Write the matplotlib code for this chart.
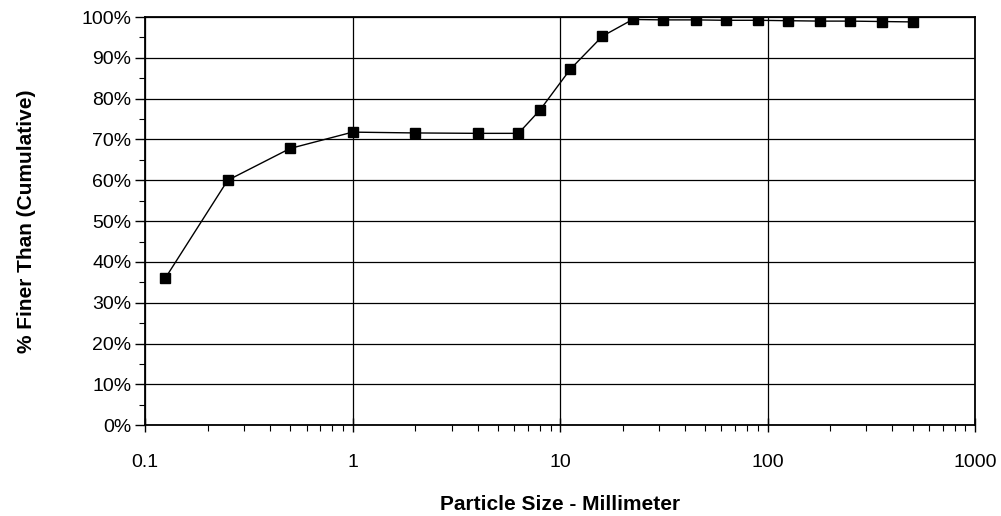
import matplotlib.pyplot as plt
from matplotlib.ticker import FixedLocator, NullFormatter, FuncFormatter

# sieve sizes (mm) and cumulative % finer
size_mm = [0.125, 0.25, 0.5, 1, 2, 4, 6.3, 8, 11.2, 16, 22.4, 31.5, 45, 63,
           90, 125, 180, 250, 355, 500]
pct_finer = [36, 60, 67.8, 71.8, 71.6, 71.5, 71.5, 77.2, 87.2, 95.3, 99.4, 99.3,
             99.3, 99.2, 99.2, 99.1, 99.0, 99.0, 98.9, 98.8]

x_ticks = [0.1, 1, 10, 100, 1000]
x_ticklabels = ["0.1", "1", "10", "100", "1000"]
y_ticks = list(range(0, 101, 10))

plt.rcParams['font.family'] = ['Liberation Sans', 'DejaVu Sans']

fig = plt.figure(figsize=(10.01, 5.16), dpi=100)
ax = fig.add_axes([0.145, 0.176, 0.829, 0.791])

ax.plot(size_mm, pct_finer, color='black', lw=1, marker='s', ms=7.5,
        mfc='black', mec='black', zorder=3)

ax.set_xscale('log')
ax.set_xlim(0.1, 1000)
ax.set_ylim(0, 100)

ax.xaxis.set_major_locator(FixedLocator(x_ticks))
ax.set_xticklabels(x_ticklabels)
ax.xaxis.set_minor_locator(FixedLocator(
    [m * 10 ** e for e in range(-1, 3) for m in range(2, 10)]))
ax.xaxis.set_minor_formatter(NullFormatter())

ax.yaxis.set_major_locator(FixedLocator(y_ticks))
ax.yaxis.set_minor_locator(FixedLocator(list(range(5, 100, 10))))
ax.yaxis.set_major_formatter(FuncFormatter(lambda v, p: f"{int(v)}%"))

ax.grid(True, which='major', color='black', lw=0.9)
ax.set_axisbelow(True)
for s in ax.spines.values():
    s.set_color('black')
    s.set_linewidth(1.3)

ax.tick_params(axis='x', which='major', direction='inout', length=10, width=1,
               pad=16, labelsize=14)
ax.tick_params(axis='x', which='minor', direction='out', length=4, width=0.8)
ax.tick_params(axis='y', which='major', direction='out', length=7, width=1,
               pad=3, labelsize=14)
ax.tick_params(axis='y', which='minor', direction='out', length=4, width=0.8)

ax.set_xlabel("Particle Size - Millimeter", fontsize=15, fontweight='bold')
ax.xaxis.set_label_coords(0.5, -0.172)
ax.set_ylabel("% Finer Than (Cumulative)", fontsize=15, fontweight='bold')
ax.yaxis.set_label_coords(-0.132, 0.5)

fig.savefig("out.png", dpi=100)
